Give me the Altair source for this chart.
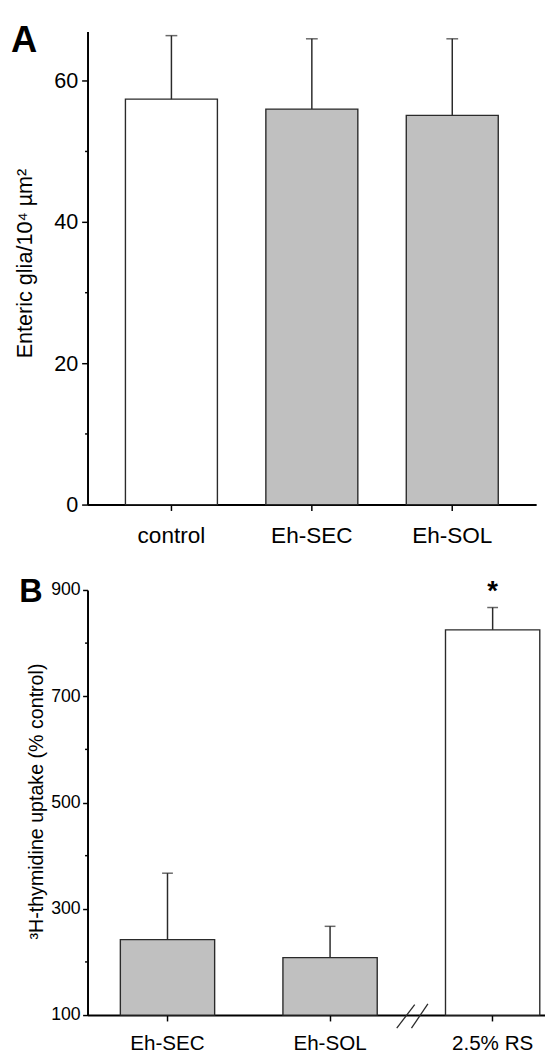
import altair as alt
import pandas as pd

FONT = "Liberation Sans"

# ---------- Panel A data ----------
a_groups = ["control", "Eh-SEC", "Eh-SOL"]
a_means = [57.4, 56.0, 55.1]
a_errors = [9.0, 9.95, 10.85]
a_major_ticks = [0, 20, 40, 60]
a_minor_ticks = [10, 30, 50]

# ---------- Panel B data ----------
b_groups = ["Eh-SEC", "Eh-SOL", "2.5% RS"]
b_means = [242, 208, 825]
b_errors = [125, 59, 42]
b_marks = ["", "", "*"]
b_major_ticks = [100, 300, 500, 700, 900]
b_minor_ticks = [200, 400, 600, 800]

dfa = pd.DataFrame({"group": a_groups, "mean": a_means, "err": a_errors})
dfa["top"] = dfa["mean"] + dfa["err"]
dfb = pd.DataFrame({"group": b_groups, "mean": b_means, "err": b_errors, "mark": b_marks})
dfb["top"] = dfb["mean"] + dfb["err"]

EDGE = "#2a2a2a"
GRAY = "#c0c0c0"

# ---------------- Panel A ----------------
WA, HA = 457, 482
xA_scale = alt.Scale(paddingInner=0.345, paddingOuter=0.27)
xA = alt.X("group:N", sort=a_groups, scale=xA_scale,
           axis=alt.Axis(title=None, labelAngle=0, labelFontSize=23, labelPadding=15,
                         tickSize=6, labelFont=FONT))
yA_scale = alt.Scale(domain=[0, 67], nice=False, zero=True)
axA = alt.Axis(values=a_major_ticks, tickSize=6,
               labelFontSize=22, labelPadding=4, labelFont=FONT,
               title="Enteric glia/10⁴ µm²", titleFontSize=22, titleFontWeight="normal",
               titleAngle=270, titleBaseline="bottom", titleAlign="center",
               titleX=-52, titleY=236)
yA = alt.Y("mean:Q", scale=yA_scale, axis=axA)

barsA = alt.Chart(dfa).mark_bar(stroke=EDGE, strokeWidth=1.4).encode(
    x=xA, y=yA,
    y2=alt.datum(0),
    fill=alt.condition(alt.datum.group == "control", alt.value("white"), alt.value(GRAY)),
)
errA = alt.Chart(dfa).mark_rule(color=EDGE, strokeWidth=1.5).encode(
    x=alt.X("group:N", sort=a_groups), y=alt.Y("mean:Q", axis=axA), y2="top:Q")
capA = alt.Chart(dfa).mark_tick(color=EDGE, thickness=1.5, size=12, orient="horizontal").encode(
    x=alt.X("group:N", sort=a_groups), y=alt.Y("top:Q", axis=axA))
minorA = alt.Chart(pd.DataFrame({"v": a_minor_ticks})).mark_rule(color="black", strokeWidth=1.5).encode(
    y=alt.Y("v:Q", scale=yA_scale, axis=axA), x=alt.value(-2.5), x2=alt.value(0))
letterA = alt.Chart(pd.DataFrame({"t": ["A"]})).mark_text(
    font=FONT, fontSize=37, fontWeight="bold", align="left", baseline="alphabetic", color="black"
).encode(text="t:N", x=alt.value(-78), y=alt.value(21))

panelA = alt.layer(barsA, errA, capA, minorA, letterA).properties(width=WA, height=HA)

# ---------------- Panel B ----------------
WB, HB = 466, 433
xB_scale = alt.Scale(paddingInner=0.42, paddingOuter=0.117, align=0.863)
xB = alt.X("group:N", sort=b_groups, scale=xB_scale,
           axis=alt.Axis(title=None, labelAngle=0, labelFontSize=21, labelPadding=12,
                         tickSize=6, labelFont=FONT))
yB_scale = alt.Scale(domain=[100, 900], nice=False, zero=False)
axB = alt.Axis(values=b_major_ticks, tickSize=5,
               labelFontSize=18, labelPadding=2.5, labelFont=FONT,
               title="³H-thymidine uptake (% control)", titleFontSize=20, titleFontWeight="normal",
               titleAngle=270, titleBaseline="bottom", titleAlign="center",
               titleX=-42, titleY=215)
yB = alt.Y("mean:Q", scale=yB_scale, axis=axB)

barsB = alt.Chart(dfb).mark_bar(stroke=EDGE, strokeWidth=1.4).encode(
    x=xB, y=yB,
    y2=alt.datum(100),
    fill=alt.condition(alt.datum.group == "2.5% RS", alt.value("white"), alt.value(GRAY)),
)
errB = alt.Chart(dfb).mark_rule(color=EDGE, strokeWidth=1.5).encode(
    x=alt.X("group:N", sort=b_groups), y=alt.Y("mean:Q", axis=axB), y2="top:Q")
capB = alt.Chart(dfb).mark_tick(color=EDGE, thickness=1.5, size=11, orient="horizontal").encode(
    x=alt.X("group:N", sort=b_groups), y=alt.Y("top:Q", axis=axB))
starB = alt.Chart(dfb).mark_text(
    font=FONT, fontSize=28, fontWeight="bold", baseline="alphabetic", align="center", dy=-8, color="black"
).encode(x=alt.X("group:N", sort=b_groups), y=alt.Y("top:Q", axis=axB), text="mark:N")
minorB = alt.Chart(pd.DataFrame({"v": b_minor_ticks})).mark_rule(color="black", strokeWidth=1.5).encode(
    y=alt.Y("v:Q", scale=yB_scale, axis=axB), x=alt.value(-2.5), x2=alt.value(0))
one = pd.DataFrame({"k": [0]})
brk1 = alt.Chart(one).mark_rule(color=EDGE, strokeWidth=1.3).encode(
    x=alt.value(315), x2=alt.value(333.3), y=alt.value(446.3), y2=alt.value(422.3))
brk2 = alt.Chart(one).mark_rule(color=EDGE, strokeWidth=1.3).encode(
    x=alt.value(330), x2=alt.value(346.7), y=alt.value(446.3), y2=alt.value(421.7))
letterB = alt.Chart(pd.DataFrame({"t": ["B"]})).mark_text(
    font=FONT, fontSize=33, fontWeight="bold", align="left", baseline="alphabetic", color="black"
).encode(text="t:N", x=alt.value(-69.5), y=alt.value(12.5))

panelB = alt.layer(barsB, errB, capB, starB, minorB, brk1, brk2, letterB).properties(width=WB, height=HB)

chart = alt.vconcat(panelA, panelB, spacing=29).properties(
    padding={"left": 3, "top": 5, "right": 0, "bottom": 0}
).configure_view(stroke=None).configure_axis(
    grid=False, domainColor="black", domainWidth=2, tickColor="black", tickWidth=1.5,
    labelColor="black", labelFont=FONT, titleFont=FONT, titleColor="black",
).configure_text(font=FONT)

chart.save("out.html", embed_options={"renderer": "svg", "actions": False})
